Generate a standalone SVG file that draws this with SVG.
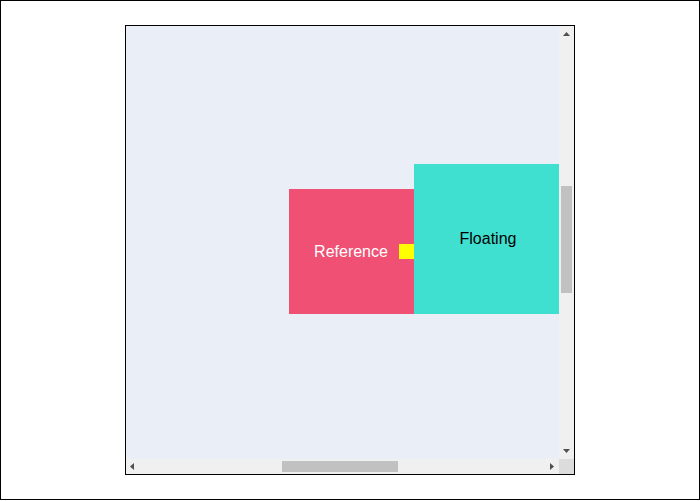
<svg xmlns="http://www.w3.org/2000/svg" width="700" height="501" viewBox="0 0 700 501">
<style>
.lbl{font-family:"Liberation Sans",Arial,sans-serif;font-size:16px;text-anchor:middle;dominant-baseline:central}
.track{fill:#f0f0f0}
.thumb{fill:#c1c1c1}
.arr{fill:#505050}
</style>
<rect x="0" y="0" width="700" height="501" fill="#fff"/>
<rect x="0.5" y="0.5" width="699" height="499" fill="#fff" stroke="#000"/>
<rect x="125.5" y="25.5" width="449" height="449" fill="#eaeef6" stroke="#000"/>
<g id="scrollbars">
<rect class="track" x="559" y="26" width="15" height="433"/>
<rect class="track" x="126" y="459" width="433" height="15"/>
<rect x="559" y="459" width="15" height="15" fill="#dcdcdc"/>
<rect class="thumb" x="561" y="186" width="11" height="107"/>
<rect class="thumb" x="282" y="461" width="116" height="11"/>
<path class="arr" d="M563 36 L566.5 32 L570 36 Z"/>
<path class="arr" d="M563 449 L570 449 L566.5 453 Z"/>
<path class="arr" d="M134 463 L134 470 L130 466.5 Z"/>
<path class="arr" d="M550 463 L550 470 L554 466.5 Z"/>
</g>
<g id="reference">
<rect x="289" y="189" width="125" height="125" fill="#ef5073"/>
<text class="lbl" x="351" y="251" fill="#fff">Reference</text>
</g>
<g id="floating">
<rect x="414" y="164" width="145" height="150" fill="#40e0d0"/>
<text class="lbl" x="488" y="238" fill="#000">Floating</text>
</g>
<g id="anchor">
<rect x="399" y="244" width="15" height="15" fill="#ffff00"/>
</g>
<g id="connectors"/>
</svg>
